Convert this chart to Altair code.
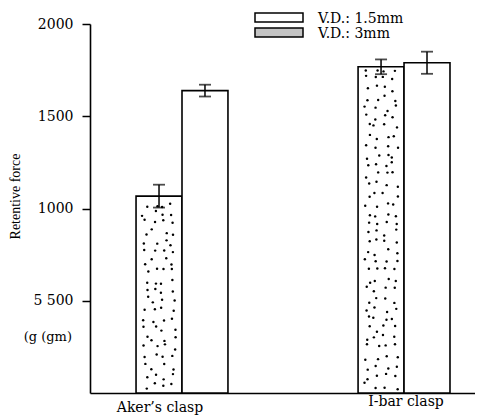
import altair as alt
import pandas as pd
import math

categories = ["Aker’s clasp", "I-bar clasp"]
series = ["V.D.: 1.5mm", "V.D.: 3mm"]
mean_15 = [1639, 1790]
mean_3 = [1067, 1768]
err_15 = [32, 60]
err_3 = [62, 40]
y_ticks = [500, 1000, 1500, 2000]
y_tick_labels = ["5 500", "1000", "1500", "2000"]
unit_label = "(g (gm)"
unit_label_y = 305

rows = []
for i, c in enumerate(categories):
    rows.append(dict(cat=c, s=series[1], v=mean_3[i], lo=mean_3[i] - err_3[i], hi=mean_3[i] + err_3[i]))
    rows.append(dict(cat=c, s=series[0], v=mean_15[i], lo=mean_15[i] - err_15[i], hi=mean_15[i] + err_15[i]))
df = pd.DataFrame(rows)


# stipple texture for the 3mm bars: jittered grid, purely a decorative fill pattern
def _h(k, s):
    v = math.sin(k * 12.9898 + s * 78.233) * 43758.5453
    return v - math.floor(v)


dots = []
n_cols = 4
row_step = 52
for i, c in enumerate(categories):
    n_rows = int(mean_3[i] // row_step)
    k = 0
    for r in range(n_rows):
        for col in range(n_cols):
            k += 1
            jx = _h(k, i + 1) - 0.5
            jy = _h(k, i + 7) - 0.5
            fx = 0.05 + (col + 0.5 + 0.7 * jx) / n_cols * 0.40
            fy = (r + 0.5 + 0.7 * jy) * row_step + 12
            if fy < mean_3[i] - 15:
                dots.append(dict(cat=c, fx=fx, fy=fy))
dots_df = pd.DataFrame(dots)

x_enc = alt.X(
    "cat:N", sort=categories,
    scale=alt.Scale(paddingInner=0.586, paddingOuter=0.16, align=0.648),
    axis=alt.Axis(
        title=None, ticks=False, domainColor="black", domainWidth=1.6, labelAngle=0,
        labelFont="DejaVu Serif", labelFontSize=14, labelColor="black",
        labelOffset={"condition": {"test": "datum.value == 'I-bar clasp'", "value": 2}, "value": -22},
        labelPadding={"condition": {"test": "datum.value == 'I-bar clasp'", "value": 1}, "value": 7},
    ),
)
label_expr = "".join(f"datum.value == {v} ? '{l}' : " for v, l in zip(y_ticks, y_tick_labels)) + "datum.label"
y_enc = alt.Y(
    "v:Q", scale=alt.Scale(domain=[0, 2000], nice=False),
    axis=alt.Axis(
        values=y_ticks, labelExpr=label_expr, format="d", grid=False,
        tickSize=8, tickColor="black", tickWidth=1.5, domainColor="black", domainWidth=1.6,
        labelPadding=9, labelFont="DejaVu Serif", labelFontSize=14, labelColor="black",
        title="Retentive force", titleFont="Liberation Serif", titleFontSize=14,
        titleFontWeight="normal", titleColor="black", titleX=-75, titleY=172,
        titleAlign="center", titleBaseline="middle",
    ),
)
xoff = alt.XOffset("s:N", sort=[series[1], series[0]], scale=alt.Scale(paddingInner=0))

base = alt.Chart(df)
bars = base.mark_bar(fill="white", stroke="black", strokeWidth=1.6).encode(x=x_enc, xOffset=xoff, y=y_enc)
rule = base.mark_rule(color="black", strokeWidth=1.5).encode(x=x_enc, xOffset=xoff, y="lo:Q", y2="hi:Q")
cap_lo = base.mark_tick(color="black", thickness=1.8, size=12).encode(x=x_enc, xOffset=xoff, y="lo:Q")
cap_hi = base.mark_tick(color="black", thickness=1.8, size=12).encode(x=x_enc, xOffset=xoff, y="hi:Q")

stip = alt.Chart(dots_df).mark_circle(size=6, color="black", opacity=1).encode(
    x=x_enc,
    xOffset=alt.XOffset("fx:Q", scale=alt.Scale(domain=[0, 1])),
    y="fy:Q",
)

unit = alt.Chart(pd.DataFrame([{"t": unit_label, "yv": unit_label_y}])).mark_text(
    align="right", baseline="middle", font="DejaVu Serif", fontSize=13, color="black"
).encode(x=alt.value(-18), y="yv:Q", text="t:N")

leg1_box = alt.Chart(pd.DataFrame([{"s": series[0]}])).mark_rect(fill="white", stroke="black", strokeWidth=1.5).encode(
    x=alt.value(165), x2=alt.value(213), y=alt.value(-11), y2=alt.value(-2))
leg2_box = alt.Chart(pd.DataFrame([{"s": series[1]}])).mark_rect(fill="#c4c4c4", stroke="black", strokeWidth=1.5).encode(
    x=alt.value(165), x2=alt.value(213), y=alt.value(4), y2=alt.value(13))
leg1_txt = alt.Chart(pd.DataFrame([{"s": series[0]}])).mark_text(
    align="left", baseline="alphabetic", font="DejaVu Serif", fontSize=14, color="black"
).encode(x=alt.value(228), y=alt.value(-1.5), text="s:N")
leg2_txt = alt.Chart(pd.DataFrame([{"s": series[1]}])).mark_text(
    align="left", baseline="alphabetic", font="DejaVu Serif", fontSize=14, color="black"
).encode(x=alt.value(228), y=alt.value(13.5), text="s:N")

chart = alt.layer(
    bars, stip, rule, cap_lo, cap_hi, unit, leg1_box, leg2_box, leg1_txt, leg2_txt
).resolve_scale(xOffset="independent").properties(
    width=385, height=369, autosize=alt.AutoSizeParams(type="none"),
    padding={"left": 82, "top": 16, "right": 0, "bottom": 26},
    background="white",
).configure_view(stroke=None)

chart.save("out.html", embed_options={"renderer": "svg", "actions": False})
